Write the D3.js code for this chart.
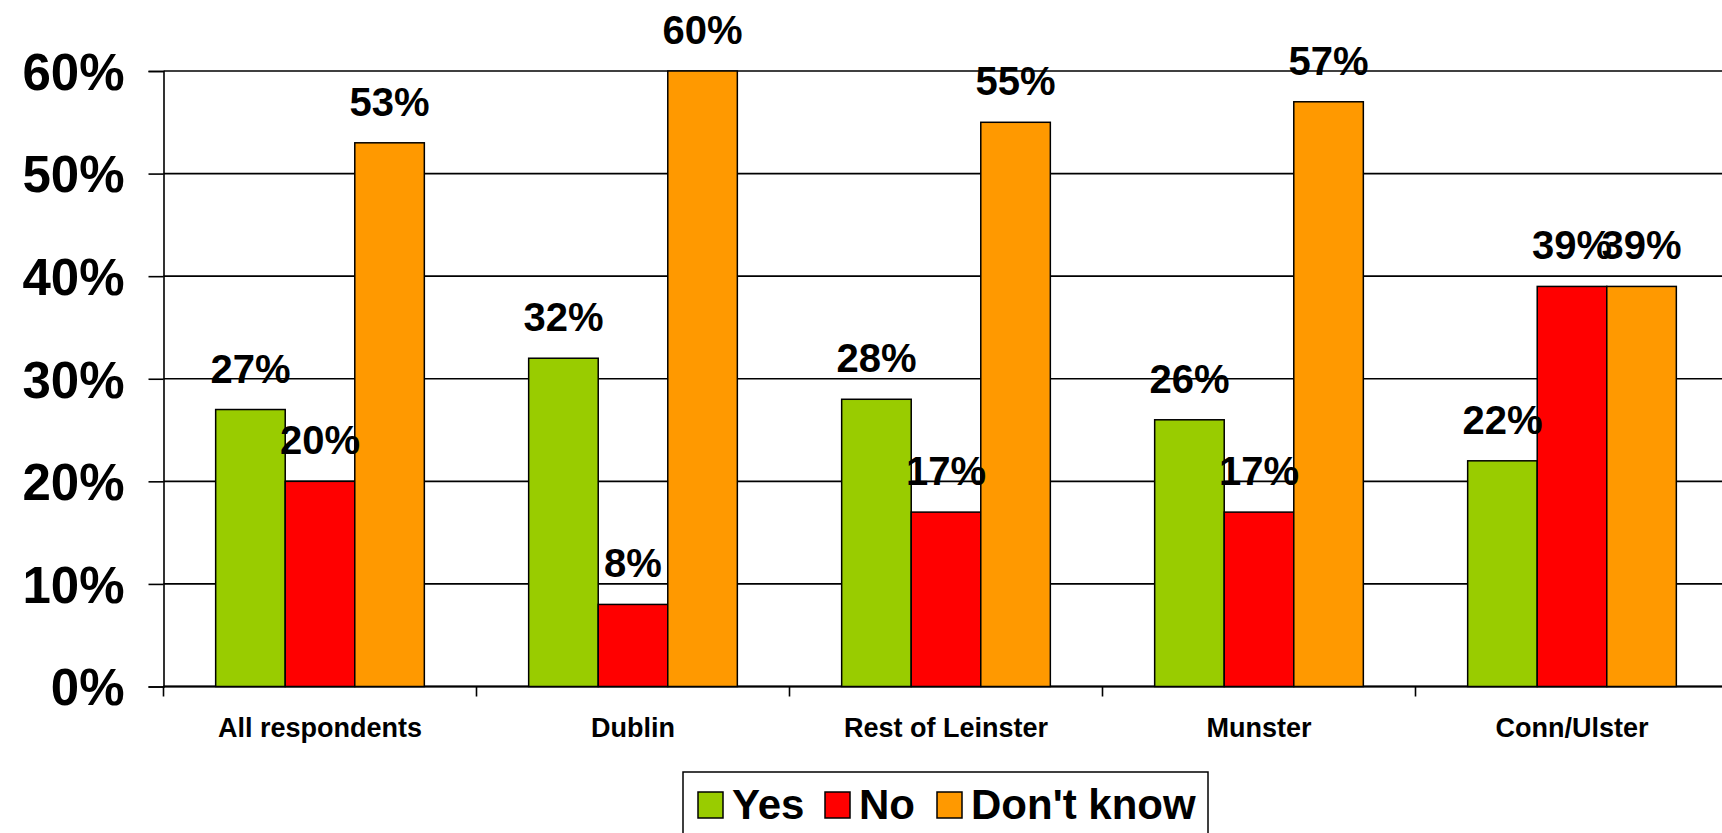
<!DOCTYPE html>
<html>
<head>
<meta charset="utf-8">
<script src="https://cdn.jsdelivr.net/npm/d3@7/dist/d3.min.js"></script>
<style>
  html, body { margin: 0; padding: 0; background: #fff; }
  svg { display: block; font-family: "Liberation Sans", Arial, sans-serif; font-weight: bold; }
</style>
</head>
<body>
<svg id="chart" width="1722" height="833"></svg>
<script>
// Survey responses by region (percent)
const categories = ["All respondents", "Dublin", "Rest of Leinster", "Munster", "Conn/Ulster"];
const seriesNames = ["Yes", "No", "Don't know"];
const yesValues = [27, 32, 28, 26, 22];
const noValues = [20, 8, 17, 17, 39];
const dontKnowValues = [53, 60, 55, 57, 39];
const yTickValues = [0, 10, 20, 30, 40, 50, 60];
const seriesColors = ["#99CC00", "#FF0000", "#FF9900"];

const seriesValues = [yesValues, noValues, dontKnowValues];

const svg = d3.select("#chart");

const plotLeft = 163.5, plotRight = 1728.5;
const plotTop = 71, plotBottom = 686.5;

const x0 = d3.scaleBand().domain(categories).range([plotLeft, plotRight]).paddingInner(0).paddingOuter(0);
const x1 = d3.scaleBand().domain(seriesNames).range([0, x0.bandwidth()]).paddingInner(0).paddingOuter(0.75);
const y = d3.scaleLinear().domain([0, 60]).range([plotBottom, plotTop]);
const color = d3.scaleOrdinal().domain(seriesNames).range(seriesColors);

// Horizontal gridlines
svg.append("g")
  .selectAll("line")
  .data(yTickValues)
  .join("line")
  .attr("x1", plotLeft)
  .attr("x2", plotRight)
  .attr("y1", d => y(d))
  .attr("y2", d => y(d))
  .attr("stroke", "#000")
  .attr("stroke-width", 1.6);

// Y axis with percent labels
const yAxis = svg.append("g")
  .attr("transform", `translate(${plotLeft},0)`)
  .call(d3.axisLeft(y).tickValues(yTickValues).tickSize(15).tickPadding(24).tickFormat(d => d + "%"));
yAxis.select(".domain").attr("stroke", "#000").attr("stroke-width", 1.6);
yAxis.selectAll(".tick line").attr("stroke", "#000").attr("stroke-width", 1.6);
yAxis.selectAll(".tick text")
  .attr("fill", "#000")
  .attr("dy", "0.36em")
  .style("font-size", "51px")
  .style("font-weight", "bold")
  .style("font-family", "'Liberation Sans', Arial, sans-serif");

// X axis baseline and category boundary ticks
svg.append("line")
  .attr("x1", plotLeft).attr("x2", plotRight)
  .attr("y1", y(0)).attr("y2", y(0))
  .attr("stroke", "#000").attr("stroke-width", 2);
svg.append("g")
  .selectAll("line")
  .data(categories)
  .join("line")
  .attr("x1", d => x0(d)).attr("x2", d => x0(d))
  .attr("y1", y(0)).attr("y2", y(0) + 10)
  .attr("stroke", "#000").attr("stroke-width", 1.6);

// Category labels
svg.append("g")
  .selectAll("text")
  .data(categories)
  .join("text")
  .attr("x", d => x0(d) + x0.bandwidth() / 2)
  .attr("y", 737)
  .attr("text-anchor", "middle")
  .style("font-size", "27px")
  .text(d => d);

// Bars
const rows = categories.map((c, i) => ({
  category: c,
  values: seriesNames.map((s, j) => ({ series: s, value: seriesValues[j][i] }))
}));

const groups = svg.append("g")
  .selectAll("g")
  .data(rows)
  .join("g")
  .attr("transform", d => `translate(${x0(d.category)},0)`);

groups.selectAll("rect")
  .data(d => d.values)
  .join("rect")
  .attr("x", d => x1(d.series))
  .attr("y", d => y(d.value))
  .attr("width", x1.bandwidth())
  .attr("height", d => y(0) - y(d.value))
  .attr("fill", d => color(d.series))
  .attr("stroke", "#000")
  .attr("stroke-width", 1.5);

// Value labels above bars
groups.selectAll("text")
  .data(d => d.values)
  .join("text")
  .attr("x", d => x1(d.series) + x1.bandwidth() / 2)
  .attr("y", d => y(d.value) - 27)
  .attr("text-anchor", "middle")
  .style("font-size", "40px")
  .text(d => d.value + "%");

// Legend
const legend = svg.append("g");
legend.append("rect")
  .attr("x", 683).attr("y", 772)
  .attr("width", 525).attr("height", 90)
  .attr("fill", "#fff")
  .attr("stroke", "#000")
  .attr("stroke-width", 1.5);

const legendSwatchX = [698, 825, 937];
seriesNames.forEach((s, i) => {
  const sx = legendSwatchX[i];
  legend.append("rect")
    .attr("x", sx).attr("y", 792)
    .attr("width", 25).attr("height", 26)
    .attr("fill", color(s))
    .attr("stroke", "#000")
    .attr("stroke-width", 1.5);
  legend.append("text")
    .attr("x", sx + 34).attr("y", 819)
    .style("font-size", "42px")
    .text(s);
});
</script>
</body>
</html>
